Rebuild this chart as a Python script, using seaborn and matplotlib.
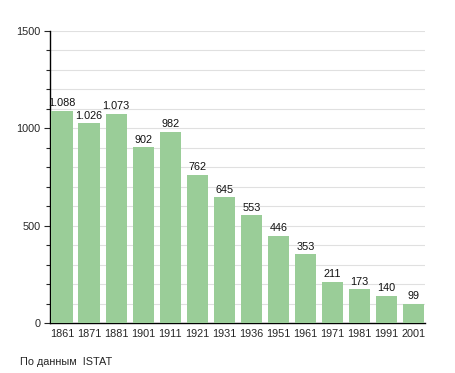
import matplotlib
matplotlib.use("Agg")
import matplotlib.pyplot as plt
import seaborn as sns
import pandas as pd
from matplotlib.ticker import MultipleLocator

years = ["1861", "1871", "1881", "1901", "1911", "1921", "1931", "1936",
         "1951", "1961", "1971", "1981", "1991", "2001"]
population = [1088, 1026, 1073, 902, 982, 762, 645, 553, 446, 353, 211, 173, 140, 99]
labels = ["1.088", "1.026", "1.073", "902", "982", "762", "645", "553",
          "446", "353", "211", "173", "140", "99"]

df = pd.DataFrame({"year": years, "pop": population})

sns.set_style("white")
plt.rcParams['font.family'] = ['Liberation Sans', 'DejaVu Sans']

fig = plt.figure(figsize=(4.55, 3.73), dpi=100)
ax = fig.add_axes([0.110, 0.134, 0.824, 0.783])

sns.barplot(data=df, x="year", y="pop", color="#9acd98", saturation=1,
            width=0.78, ax=ax, zorder=3, edgecolor="none")

for i, (v, t) in enumerate(zip(population, labels)):
    ax.text(i, v + 14, t, ha="center", va="bottom", fontsize=7.8, color="#111111", zorder=4)

ax.set_ylim(0, 1500)
ax.set_xlim(-0.44, 13.42)
ax.yaxis.set_major_locator(MultipleLocator(500))
ax.yaxis.set_minor_locator(MultipleLocator(100))
ax.grid(axis="y", which="both", color="#e0e0e0", linewidth=0.8, zorder=0)
ax.set_axisbelow(True)
for s in ["top", "right"]:
    ax.spines[s].set_visible(False)
for s in ["left", "bottom"]:
    ax.spines[s].set_color("black")
    ax.spines[s].set_linewidth(1.0)
ax.tick_params(axis="y", which="major", left=True, length=4, width=0.8, labelsize=7.8, pad=3)
ax.tick_params(axis="y", which="minor", left=True, length=3, width=0.8)
ax.tick_params(axis="x", bottom=False, labelsize=7.8, pad=1)
ax.set_xlabel("")
ax.set_ylabel("")

fig.text(20 / 455, 1 - 362 / 373, "По данным  ISTAT", fontsize=7.8, ha="left", va="center")

fig.savefig("out.png", dpi=100)
